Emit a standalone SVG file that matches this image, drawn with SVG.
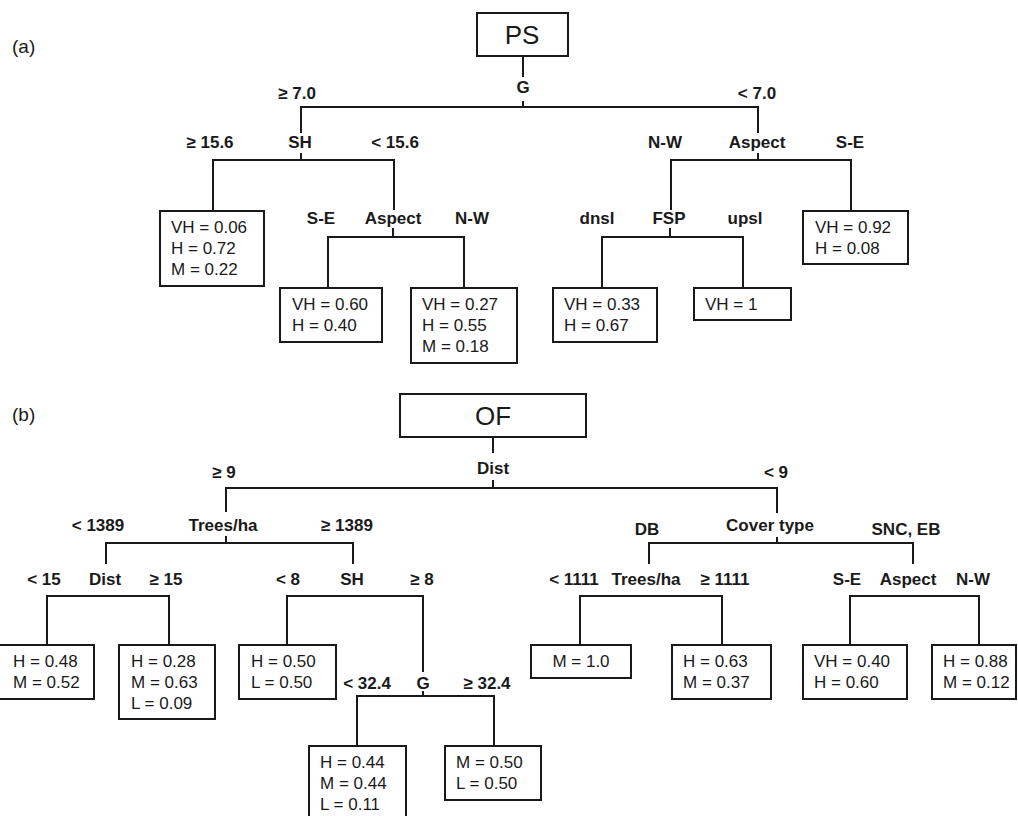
<svg xmlns="http://www.w3.org/2000/svg" width="1018" height="816" viewBox="0 0 1018 816">
<style>
.bg{fill:#ffffff}
.box{fill:#ffffff;stroke:#1a1a1a;stroke-width:2}
.ln{fill:none;stroke:#1a1a1a;stroke-width:2}
.lb{font-family:"Liberation Sans",Arial,sans-serif;font-weight:bold;font-size:17px;fill:#1a1a1a;text-anchor:middle}
.lf{font-family:"Liberation Sans",Arial,sans-serif;font-size:17px;fill:#1a1a1a}
.rt{font-family:"Liberation Sans",Arial,sans-serif;font-size:26px;fill:#1a1a1a;text-anchor:middle}
.pn{font-family:"Liberation Sans",Arial,sans-serif;font-size:19px;fill:#1a1a1a}
</style>
<rect class="bg" x="0" y="0" width="1018" height="816"/>

<!-- connectors -->
<g id="connectors" class="ln">
<!-- (a) -->
<path d="M523 56V77M523 101V107M301 133V107H758V133"/>
<path d="M301 153V160M213 211V160H394V210"/>
<path d="M758 153V160M671 210V160H851V211"/>
<path d="M393 228V237M328 288V237H464V288"/>
<path d="M670 228V237M602 288V237H743V288"/>
<!-- (b) -->
<path d="M493 437V453M493 480V488M226 512V488H777V513"/>
<path d="M226 536V543M106 564V543H353V564"/>
<path d="M777 537V543M649 564V543H913V564"/>
<path d="M47 645V596H169V645"/>
<path d="M287 645V596H423V672"/>
<path d="M423 691V696M357 746V696H494V746"/>
<path d="M580 645V596H722V645"/>
<path d="M850 645V596H979V645"/>
</g>

<!-- (a) tree -->
<text class="pn" x="12" y="53">(a)</text>
<g id="root-ps">
<rect class="box" x="477" y="13" width="91" height="43"/>
<text class="rt" x="522" y="44">PS</text>
</g>
<g id="split-g-a">
<text class="lb" x="523" y="93">G</text>
<text class="lb" x="297" y="99">≥ 7.0</text>
<text class="lb" x="757" y="99">&lt; 7.0</text>
</g>
<g id="split-sh-a">
<text class="lb" x="300" y="148">SH</text>
<text class="lb" x="210" y="148">≥ 15.6</text>
<text class="lb" x="395" y="148">&lt; 15.6</text>
</g>
<g id="split-aspect-a1">
<text class="lb" x="757" y="148">Aspect</text>
<text class="lb" x="665" y="148">N-W</text>
<text class="lb" x="850" y="148">S-E</text>
</g>
<g id="split-aspect-a2">
<text class="lb" x="393" y="224">Aspect</text>
<text class="lb" x="321" y="224">S-E</text>
<text class="lb" x="472" y="224">N-W</text>
</g>
<g id="split-fsp-a">
<text class="lb" x="669" y="224">FSP</text>
<text class="lb" x="597" y="224">dnsl</text>
<text class="lb" x="745" y="224">upsl</text>
</g>
<g id="leaf-a1">
<rect class="box" x="160" y="211" width="104" height="75"/>
<text class="lf" x="171" y="233">VH = 0.06</text>
<text class="lf" x="171" y="254">H = 0.72</text>
<text class="lf" x="171" y="275">M = 0.22</text>
</g>
<g id="leaf-a2">
<rect class="box" x="280" y="288" width="102" height="54"/>
<text class="lf" x="292" y="310">VH = 0.60</text>
<text class="lf" x="292" y="331">H = 0.40</text>
</g>
<g id="leaf-a3">
<rect class="box" x="411" y="288" width="106" height="75"/>
<text class="lf" x="422" y="310">VH = 0.27</text>
<text class="lf" x="422" y="331">H = 0.55</text>
<text class="lf" x="422" y="352">M = 0.18</text>
</g>
<g id="leaf-a4">
<rect class="box" x="553" y="288" width="104" height="54"/>
<text class="lf" x="564" y="310">VH = 0.33</text>
<text class="lf" x="564" y="331">H = 0.67</text>
</g>
<g id="leaf-a5">
<rect class="box" x="694" y="288" width="97" height="32"/>
<text class="lf" x="705" y="310">VH = 1</text>
</g>
<g id="leaf-a6">
<rect class="box" x="803" y="211" width="105" height="53"/>
<text class="lf" x="815" y="233">VH = 0.92</text>
<text class="lf" x="815" y="254">H = 0.08</text>
</g>

<!-- (b) tree -->
<text class="pn" x="12" y="421">(b)</text>
<g id="root-of">
<rect class="box" x="400" y="394" width="186" height="43"/>
<text class="rt" x="493" y="425">OF</text>
</g>
<g id="split-dist-b1">
<text class="lb" x="493" y="474">Dist</text>
<text class="lb" x="224" y="478">≥ 9</text>
<text class="lb" x="776" y="478">&lt; 9</text>
</g>
<g id="split-trees-b1">
<text class="lb" x="223" y="531">Trees/ha</text>
<text class="lb" x="98" y="531">&lt; 1389</text>
<text class="lb" x="347" y="531">≥ 1389</text>
</g>
<g id="split-cover-b">
<text class="lb" x="770" y="531">Cover type</text>
<text class="lb" x="647" y="535">DB</text>
<text class="lb" x="906" y="535">SNC, EB</text>
</g>
<g id="split-dist-b2">
<text class="lb" x="105" y="585">Dist</text>
<text class="lb" x="44" y="585">&lt; 15</text>
<text class="lb" x="166" y="585">≥ 15</text>
</g>
<g id="split-sh-b">
<text class="lb" x="352" y="585">SH</text>
<text class="lb" x="288" y="585">&lt; 8</text>
<text class="lb" x="422" y="585">≥ 8</text>
</g>
<g id="split-trees-b2">
<text class="lb" x="646" y="585">Trees/ha</text>
<text class="lb" x="574" y="585">&lt; 1111</text>
<text class="lb" x="725" y="585">≥ 1111</text>
</g>
<g id="split-aspect-b">
<text class="lb" x="908" y="585">Aspect</text>
<text class="lb" x="847" y="585">S-E</text>
<text class="lb" x="973" y="585">N-W</text>
</g>
<g id="split-g-b">
<text class="lb" x="423" y="689">G</text>
<text class="lb" x="367" y="689">&lt; 32.4</text>
<text class="lb" x="487" y="689">≥ 32.4</text>
</g>
<g id="leaf-b1">
<rect class="box" x="-1" y="645" width="95" height="54"/>
<text class="lf" x="13" y="667">H = 0.48</text>
<text class="lf" x="13" y="688">M = 0.52</text>
</g>
<g id="leaf-b2">
<rect class="box" x="119" y="645" width="96" height="74"/>
<text class="lf" x="131" y="667">H = 0.28</text>
<text class="lf" x="131" y="688">M = 0.63</text>
<text class="lf" x="131" y="709">L = 0.09</text>
</g>
<g id="leaf-b3">
<rect class="box" x="239" y="645" width="97" height="54"/>
<text class="lf" x="251" y="667">H = 0.50</text>
<text class="lf" x="251" y="688">L = 0.50</text>
</g>
<g id="leaf-b4">
<rect class="box" x="309" y="746" width="97" height="75"/>
<text class="lf" x="320" y="768">H = 0.44</text>
<text class="lf" x="320" y="789">M = 0.44</text>
<text class="lf" x="320" y="810">L = 0.11</text>
</g>
<g id="leaf-b5">
<rect class="box" x="445" y="746" width="96" height="54"/>
<text class="lf" x="456" y="768">M = 0.50</text>
<text class="lf" x="456" y="789">L = 0.50</text>
</g>
<g id="leaf-b6">
<rect class="box" x="531" y="645" width="100" height="33"/>
<text class="lf" x="581" y="667" text-anchor="middle">M = 1.0</text>
</g>
<g id="leaf-b7">
<rect class="box" x="672" y="645" width="99" height="54"/>
<text class="lf" x="683" y="667">H = 0.63</text>
<text class="lf" x="683" y="688">M = 0.37</text>
</g>
<g id="leaf-b8">
<rect class="box" x="803" y="645" width="104" height="54"/>
<text class="lf" x="814" y="667">VH = 0.40</text>
<text class="lf" x="814" y="688">H = 0.60</text>
</g>
<g id="leaf-b9">
<rect class="box" x="932" y="645" width="84" height="54"/>
<text class="lf" x="943" y="667">H = 0.88</text>
<text class="lf" x="943" y="688">M = 0.12</text>
</g>
</svg>
